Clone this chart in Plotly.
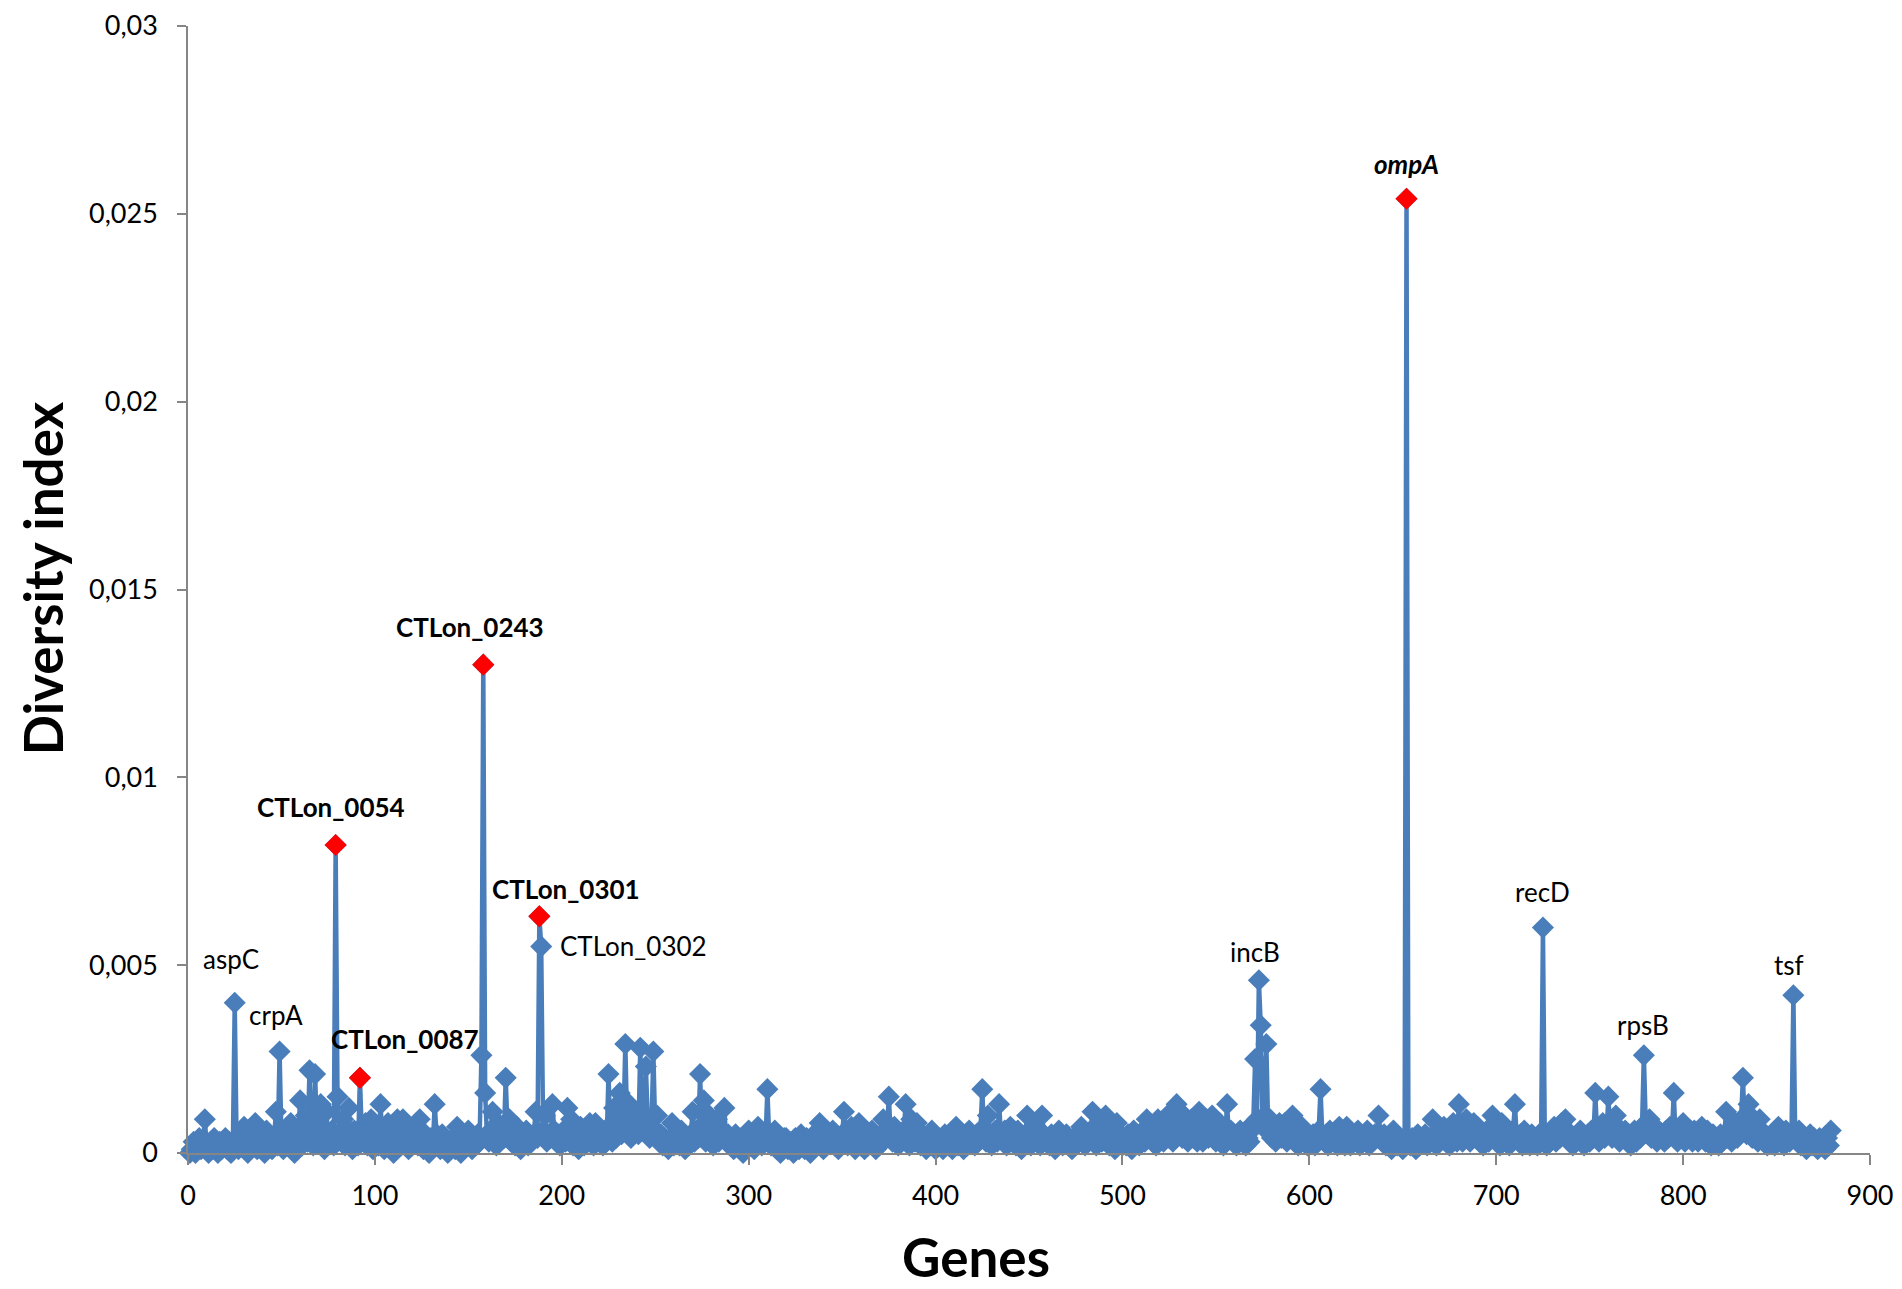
import plotly.graph_objects as go

# Diversity index per gene (gene 1 .. 879)
diversity = [
    0, 0.0001, 0.0003, 0, 0.0002, 0.0004, 0.0001, 0.0003, 0.0009, 0.0002, 0, 0.0003, 0.0001, 0.0004, 0.0002, 0, 0.0003, 0.0001, 0.0002, 0.0004,
    0.0001, 0.0003, 0, 0.0002, 0.004, 0.0003, 0.0001, 0.0004, 0.0002, 0.0007, 0.0003, 0, 0.0005, 0.0002, 0.0004, 0.0008, 0.0001, 0.0003, 0.0005, 0.0002,
    0, 0.0006, 0.0002, 0.0004, 0.0001, 0.0003, 0.0011, 0.0002, 0.0027, 0.0004, 0.0001, 0.0005, 0.0003, 0.0002, 0.0008, 0.0004, 0, 0.0003, 0.0005, 0.0014,
    0.0002, 0.0004, 0.001, 0.0003, 0.0022, 0.0005, 0.0002, 0.0021, 0.0006, 0.0003, 0.0013, 0.0004, 0.0001, 0.0011, 0.0005, 0.0003, 0.0006, 0.0002, 0.0082, 0.0015,
    0.0004, 0.0003, 0.0009, 0.0002, 0.0005, 0.0012, 0.0003, 0.0001, 0.0006, 0.0004, 0.0002, 0.002, 0.0005, 0.0003, 0.0008, 0.0002, 0.0004, 0.0009, 0.0001, 0.0003,
    0.0005, 0.0002, 0.0013, 0.0004, 0.0001, 0.0003, 0.0008, 0.0002, 0.0005, 0, 0.0003, 0.0009, 0.0004, 0.0002, 0.0009, 0.0003, 0.0007, 0.0001, 0.0004, 0.0002,
    0.0003, 0.0006, 0.0002, 0.0009, 0.0004, 0.0001, 0.0005, 0.0003, 0, 0.0004, 0.0002, 0.0013, 0.0005, 0.0003, 0.0001, 0.0005, 0.0002, 0.0004, 0, 0.0003,
    0.0002, 0.0004, 0.0001, 0.0007, 0.0003, 0, 0.0004, 0.0002, 0.0005, 0.0006, 0.0003, 0.0001, 0.0004, 0.0002, 0.0005, 0.0003, 0.0026, 0.013, 0.0016, 0.0004,
    0.0003, 0.0006, 0.0011, 0.0004, 0.0002, 0.0008, 0.0003, 0.0005, 0.0004, 0.002, 0.0006, 0.0009, 0.0003, 0.0005, 0.0002, 0.0007, 0.0004, 0.0001, 0.0003, 0.0005,
    0.0006, 0.0002, 0.0004, 0.0003, 0.0005, 0.0011, 0.0004, 0.0063, 0.0055, 0.0006, 0.001, 0.0003, 0.0005, 0.0004, 0.0013, 0.0006, 0.0003, 0.0005, 0.0002, 0.0004,
    0.0006, 0.0003, 0.0012, 0.0004, 0.0009, 0.0002, 0.0005, 0.0003, 0.0001, 0.0007, 0.0004, 0.0002, 0.0005, 0.0003, 0.0008, 0.0004, 0.0002, 0.0008, 0.0005, 0.0003,
    0.0004, 0.0002, 0.0006, 0.0003, 0.0021, 0.0005, 0.0003, 0.0012, 0.0004, 0.0006, 0.0016, 0.0005, 0.0008, 0.0029, 0.0007, 0.0013, 0.0004, 0.0009, 0.0006, 0.0011,
    0.0005, 0.0028, 0.0008, 0.0006, 0.0023, 0.0009, 0.0004, 0.0007, 0.0027, 0.0006, 0.001, 0.0003, 0.0005, 0.0002, 0.0004, 0.0003, 0.0001, 0.0004, 0.0008, 0.0002,
    0.0003, 0.0005, 0.0002, 0.0006, 0.0003, 0.0001, 0.0004, 0.0002, 0.0005, 0.0011, 0.0003, 0.0006, 0.0004, 0.0021, 0.0005, 0.0014, 0.0003, 0.0006, 0.001, 0.0004,
    0.0002, 0.0005, 0.0009, 0.0003, 0.0006, 0.0004, 0.0012, 0.0003, 0.0005, 0.0002, 0.0004, 0.0001, 0.0005, 0.0003, 0.0002, 0.0004, 0, 0.0003, 0.0002, 0.0006,
    0.0002, 0.0004, 0.0001, 0.0003, 0.0007, 0.0004, 0.0002, 0.0005, 0.0003, 0.0017, 0.0004, 0.0002, 0.0003, 0.0006, 0.0001, 0.0003, 0, 0.0002, 0.0004, 0.0004,
    0.0001, 0.0003, 0.0002, 0, 0.0004, 0.0002, 0.0001, 0.0005, 0.0003, 0.0001, 0.0004, 0.0002, 0, 0.0003, 0.0005, 0.0002, 0.0004, 0.0008, 0.0003, 0.0001,
    0.0004, 0.0002, 0.0005, 0.0003, 0.0006, 0.0002, 0.0004, 0.0001, 0.0003, 0.0005, 0.0011, 0.0004, 0.0002, 0.0003, 0.0007, 0.0004, 0.0001, 0.0003, 0.0008, 0.0002,
    0.0004, 0.0001, 0.0003, 0.0002, 0.0004, 0.0006, 0.0003, 0.0001, 0.0004, 0.0002, 0.0005, 0.0009, 0.0004, 0.0006, 0.0015, 0.0005, 0.0003, 0.0007, 0.0004, 0.0002,
    0.0005, 0.0003, 0.0006, 0.0013, 0.0004, 0.0002, 0.0009, 0.0005, 0.0003, 0.0008, 0.0004, 0.0002, 0.0005, 0.0003, 0.0001, 0.0004, 0.0002, 0.0006, 0.0003, 0.0001,
    0.0004, 0.0002, 0.0003, 0.0001, 0.0005, 0.0003, 0.0002, 0.0004, 0.0001, 0.0003, 0.0007, 0.0002, 0.0004, 0.0003, 0.0001, 0.0005, 0.0002, 0.0006, 0.0003, 0.0004,
    0.0002, 0.0005, 0.0003, 0.0006, 0.0017, 0.0004, 0.0003, 0.001, 0.0005, 0.0002, 0.0004, 0.0006, 0.0003, 0.0013, 0.0005, 0.0003, 0.0006, 0.0002, 0.0004, 0.0007,
    0.0003, 0.0005, 0.0002, 0.0006, 0.0004, 0.0001, 0.0003, 0.0005, 0.001, 0.0004, 0.0002, 0.0005, 0.0007, 0.0003, 0.0004, 0.0002, 0.001, 0.0005, 0.0003, 0.0004,
    0.0002, 0.0005, 0.0003, 0.0001, 0.0004, 0.0006, 0.0003, 0.0002, 0.0004, 0.0005, 0.0002, 0.0003, 0.0001, 0.0004, 0.0002, 0.0005, 0.0003, 0.0007, 0.0004, 0.0002,
    0.0005, 0.0003, 0.0006, 0.0011, 0.0004, 0.0002, 0.0007, 0.0004, 0.0003, 0.0005, 0.001, 0.0004, 0.0002, 0.0005, 0.0003, 0.0001, 0.0008, 0.0003, 0.0005, 0.0002,
    0.0004, 0.0002, 0.0005, 0.0003, 0.0001, 0.0006, 0.0003, 0.0005, 0.0002, 0.0004, 0.0006, 0.0003, 0.0009, 0.0004, 0.0007, 0.0003, 0.0005, 0.0002, 0.0009, 0.0004,
    0.0006, 0.0003, 0.0005, 0.001, 0.0004, 0.0007, 0.0003, 0.0006, 0.0013, 0.0005, 0.0008, 0.0004, 0.001, 0.0006, 0.0003, 0.0005, 0.0009, 0.0004, 0.0006, 0.0003,
    0.0011, 0.0005, 0.0003, 0.0006, 0.0009, 0.0004, 0.0007, 0.001, 0.0005, 0.0003, 0.0006, 0.0008, 0.0004, 0.0002, 0.0005, 0.0013, 0.0004, 0.0006, 0.0003, 0.0005,
    0.0002, 0.0004, 0.0006, 0.0003, 0.0005, 0.0002, 0.0004, 0.0003, 0.0006, 0.0008, 0.0025, 0.0009, 0.0046, 0.0034, 0.0007, 0.001, 0.0029, 0.0006, 0.0009, 0.0004,
    0.0005, 0.0003, 0.0006, 0.0008, 0.0004, 0.0005, 0.0008, 0.0003, 0.0005, 0.0004, 0.001, 0.0003, 0.0005, 0.0002, 0.0004, 0.0007, 0.0003, 0.0005, 0.0002, 0.0004,
    0.0003, 0.0005, 0.0002, 0.0004, 0.0006, 0.0017, 0.0004, 0.0003, 0.0005, 0.0002, 0.0006, 0.0003, 0.0005, 0.0004, 0.0002, 0.0007, 0.0003, 0.0005, 0.0002, 0.0007,
    0.0004, 0.0002, 0.0005, 0.0003, 0.0004, 0.0006, 0.0002, 0.0004, 0.0003, 0.0005, 0.0006, 0.0002, 0.0004, 0.0003, 0.0005, 0.0004, 0.001, 0.0005, 0.0003, 0.0005,
    0.0002, 0.0004, 0.0003, 0.0001, 0.0006, 0.0003, 0.0002, 0.0004, 0.0003, 0.0001, 0.0004, 0.0254, 0.0003, 0.0002, 0.0004, 0.0003, 0.0001, 0.0005, 0.0002, 0.0004,
    0.0003, 0.0005, 0.0002, 0.0004, 0.0003, 0.0009, 0.0004, 0.0002, 0.0005, 0.0003, 0.0004, 0.0007, 0.0003, 0.0005, 0.0002, 0.0004, 0.0008, 0.0005, 0.0003, 0.0013,
    0.0005, 0.0003, 0.0006, 0.0009, 0.0004, 0.0003, 0.0005, 0.0008, 0.0004, 0.0007, 0.0003, 0.0005, 0.0002, 0.0004, 0.0006, 0.0003, 0.0005, 0.001, 0.0004, 0.0003,
    0.0005, 0.0002, 0.0008, 0.0004, 0.0003, 0.0005, 0.0002, 0.0004, 0.0006, 0.0013, 0.0004, 0.0003, 0.0005, 0.0002, 0.0006, 0.0003, 0.0004, 0.0002, 0.0005, 0.0003,
    0.0004, 0.0002, 0.0005, 0.0003, 0.006, 0.0004, 0.0002, 0.0005, 0.0003, 0.0004, 0.0007, 0.0003, 0.0005, 0.0004, 0.0008, 0.0005, 0.0009, 0.0004, 0.0003, 0.0005,
    0.0002, 0.0004, 0.0003, 0.0005, 0.0006, 0.0003, 0.0002, 0.0004, 0.0005, 0.0003, 0.0006, 0.0004, 0.0016, 0.0005, 0.0003, 0.0006, 0.0008, 0.0004, 0.0005, 0.0015,
    0.0006, 0.0004, 0.0007, 0.001, 0.0005, 0.0003, 0.0006, 0.0004, 0.0006, 0.0003, 0.0005, 0.0002, 0.0004, 0.0006, 0.0003, 0.0005, 0.0004, 0.0007, 0.0026, 0.0008,
    0.0005, 0.0009, 0.0004, 0.0006, 0.0007, 0.0003, 0.0005, 0.0004, 0.0005, 0.0003, 0.0006, 0.0004, 0.0007, 0.0005, 0.0016, 0.0004, 0.0003, 0.0005, 0.0004, 0.0008,
    0.0003, 0.0005, 0.0004, 0.0006, 0.0003, 0.0006, 0.0005, 0.0003, 0.0004, 0.0007, 0.0005, 0.0003, 0.0006, 0.0004, 0.0002, 0.0005, 0.0003, 0.0004, 0.0002, 0.0005,
    0.0003, 0.0005, 0.0011, 0.0004, 0.0006, 0.0003, 0.0005, 0.0008, 0.0004, 0.0006, 0.0009, 0.002, 0.0007, 0.0005, 0.0013, 0.0006, 0.0004, 0.0009, 0.0005, 0.0003,
    0.0009, 0.0004, 0.0003, 0.0005, 0.0002, 0.0004, 0.0003, 0.0005, 0.0002, 0.0004, 0.0007, 0.0003, 0.0005, 0.0002, 0.0006, 0.0004, 0.0003, 0.0005, 0.0042, 0.0004,
    0.0003, 0.0006, 0.0002, 0.0004, 0.0003, 0.0001, 0.0003, 0.0005, 0.0002, 0.0004, 0.0003, 0.0001, 0.0004, 0.0002, 0.0003, 0.0001, 0.0004, 0.0002, 0.0006,
]
genes = list(range(1, len(diversity) + 1))

# genes drawn with a red marker
highlight_genes = [79, 92, 158, 188, 652]

# labelled genes and their text
label_genes = [25, 49, 79, 92, 158, 188, 189, 573, 652, 725, 779, 859]
label_texts = ['aspC', 'crpA', '<b>CTLon_0054</b>', '<b>CTLon_0087</b>', '<b>CTLon_0243</b>',
               '<b>CTLon_0301</b>', 'CTLon_0302', 'incB', '<b><i>ompA</i></b>', 'recD', 'rpsB', 'tsf']
# label placement relative to its point (px): xshift, yshift, xanchor
label_offsets = [(-4, 44, 'center'), (-4, 37, 'center'), (-5, 38, 'center'), (45, 39, 'center'),
                 (-13, 38, 'center'), (27, 27, 'center'), (17, 0, 'left'), (-4, 28, 'center'),
                 (0, 35, 'center'), (0, 36, 'center'), (-1, 30, 'center'), (-4, 30, 'center')]

BLUE = '#4A7EBB'
RED = '#FF0000'
AXIS = '#868686'
FONT = 'Lato, Carlito, Calibri, sans-serif'

fig = go.Figure()

# Main series: line with diamond markers
fig.add_trace(go.Scatter(
    x=genes,
    y=diversity,
    mode='lines+markers',
    line=dict(color=BLUE, width=4.5),
    marker=dict(symbol='diamond', size=17, color=BLUE),
    cliponaxis=False,
    showlegend=False
))

# Highlighted genes in red
fig.add_trace(go.Scatter(
    x=highlight_genes,
    y=[diversity[g - 1] for g in highlight_genes],
    mode='markers',
    marker=dict(symbol='diamond', size=17, color=RED),
    cliponaxis=False,
    showlegend=False
))

# Gene labels
for gene, text, (dx, dy, anchor) in zip(label_genes, label_texts, label_offsets):
    fig.add_annotation(
        x=gene, y=diversity[gene - 1], text=text,
        showarrow=False, xshift=dx, yshift=dy, xanchor=anchor, yanchor='middle',
        font=dict(family=FONT, size=26, color='black')
    )

# Axis titles
fig.add_annotation(
    xref='paper', yref='paper', x=0, y=0, xshift=788, yshift=-103,
    text='<b>Genes</b>', showarrow=False, xanchor='center', yanchor='middle',
    font=dict(family=FONT, size=53, color='black')
)
fig.add_annotation(
    xref='paper', yref='paper', x=0, y=0.51, xshift=-146,
    text='<b>Diversity index</b>', showarrow=False, textangle=-90,
    xanchor='center', yanchor='middle',
    font=dict(family=FONT, size=53, color='black')
)

# Figure Layout (page body adds 8px offset, margins compensate)
fig.update_layout(
    width=1902,
    height=1289,
    margin=dict(l=180, r=40, t=18, b=144),
    plot_bgcolor='white',
    paper_bgcolor='white',
    separators=',.',
    font=dict(family=FONT, size=27, color='black'),
    showlegend=False
)
fig.update_xaxes(
    range=[0, 900], dtick=100, tick0=0,
    showgrid=False, zeroline=False, automargin=False,
    showline=True, linecolor=AXIS, linewidth=1.5,
    ticks='outside', ticklen=10, tickcolor=AXIS, tickwidth=1.5,
    ticklabelstandoff=8, ticklabeloverflow='allow',
    tickfont=dict(family=FONT, size=27, color='black')
)
fig.update_yaxes(
    range=[0, 0.03], dtick=0.005, tick0=0,
    showgrid=False, zeroline=False, automargin=False,
    showline=True, linecolor=AXIS, linewidth=1.5,
    ticks='outside', ticklen=9, tickcolor=AXIS, tickwidth=1.5,
    ticklabelstandoff=14, ticklabeloverflow='allow',
    tickfont=dict(family=FONT, size=27, color='black')
)

fig.write_html('out.html')
